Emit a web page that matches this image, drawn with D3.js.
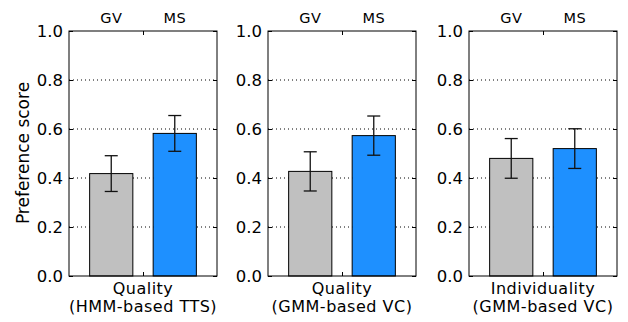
<!DOCTYPE html>
<html>
<head>
<meta charset="utf-8">
<script src="https://cdn.jsdelivr.net/npm/d3@7"></script>
<style>
  body { margin: 0; background: #fff; }
  svg { display: block; font-family: 'DejaVu Sans', sans-serif; }
</style>
</head>
<body>
<svg id="chart" width="628" height="322"></svg>
<script>
const methods = ['GV', 'MS'];
const panelTitles = [['Quality', '(HMM-based TTS)'], ['Quality', '(GMM-based VC)'], ['Individuality', '(GMM-based VC)']];
const scores = [[0.418, 0.582], [0.427, 0.573], [0.480, 0.520]];
const errors = [[0.073, 0.073], [0.080, 0.080], [0.081, 0.081]];
const yTicks = [0.0, 0.2, 0.4, 0.6, 0.8, 1.0];
const barColors = ['#c0c0c0', '#1e90ff'];

const svg = d3.select('#chart');
const panelLeft = [69, 268, 469];
const panelWidth = 148;
const plotTop = 31;
const plotBottom = 276;

const y = d3.scaleLinear().domain([0, 1]).range([plotBottom, plotTop]);

panelTitles.forEach((title, p) => {
  const x = d3.scaleLinear()
    .domain([-0.665, 1.665])
    .range([panelLeft[p], panelLeft[p] + panelWidth]);
  const g = svg.append('g');
  const barW = x(0.68) - x(0);

  // dotted grid
  g.selectAll('.grid')
    .data(yTicks.filter(t => t > 0 && t < 1))
    .enter().append('line')
    .attr('x1', x.range()[0]).attr('x2', x.range()[1])
    .attr('y1', d => y(d)).attr('y2', d => y(d))
    .attr('stroke', '#000').attr('stroke-width', 1)
    .attr('stroke-dasharray', '1,3');

  // bars
  const data = methods.map((m, i) => ({ m, i, v: scores[p][i], e: errors[p][i] }));
  g.selectAll('.bar')
    .data(data)
    .enter().append('rect')
    .attr('x', d => x(d.i) - barW / 2)
    .attr('width', barW)
    .attr('y', d => y(d.v))
    .attr('height', d => y(0) - y(d.v))
    .attr('fill', d => barColors[d.i])
    .attr('stroke', '#000').attr('stroke-width', 1);

  // error bars
  const eb = g.selectAll('.err').data(data).enter().append('g').attr('stroke', '#111').attr('stroke-width', 1.3);
  eb.append('line')
    .attr('x1', d => x(d.i)).attr('x2', d => x(d.i))
    .attr('y1', d => y(d.v + d.e)).attr('y2', d => y(d.v - d.e));
  [1, -1].forEach(s => {
    eb.append('line')
      .attr('x1', d => x(d.i) - 6.5).attr('x2', d => x(d.i) + 6.5)
      .attr('y1', d => y(d.v + s * d.e)).attr('y2', d => y(d.v + s * d.e));
  });

  // y axis, ticks inward
  const yAxis = d3.axisLeft(y).tickValues(yTicks).tickFormat(d3.format('.1f')).tickSize(-4).tickPadding(6);
  const ya = g.append('g').attr('transform', `translate(${x.range()[0]},0)`).call(yAxis);
  ya.select('.domain').remove();
  ya.selectAll('text').attr('font-size', 16.5).attr('font-family', 'DejaVu Sans').attr('fill', '#000');
  const yr = g.append('g').attr('transform', `translate(${x.range()[1]},0)`)
    .call(d3.axisRight(y).tickValues(yTicks).tickSize(-4).tickFormat(''));
  yr.select('.domain').remove();

  // x ticks at center, top and bottom
  const xb = g.append('g').attr('transform', `translate(0,${plotBottom})`)
    .call(d3.axisBottom(x).tickValues([0.5]).tickSize(-4).tickFormat(''));
  xb.select('.domain').remove();
  const xt = g.append('g').attr('transform', `translate(0,${plotTop})`)
    .call(d3.axisTop(x).tickValues([0.5]).tickSize(-4).tickFormat(''));
  xt.select('.domain').remove();

  // frame
  g.append('rect')
    .attr('x', x.range()[0]).attr('y', plotTop)
    .attr('width', panelWidth).attr('height', plotBottom - plotTop)
    .attr('fill', 'none').attr('stroke', '#000').attr('stroke-width', 1);

  // method labels above
  g.selectAll('.mlab').data(data).enter().append('text')
    .attr('x', d => x(d.i)).attr('y', 23)
    .attr('text-anchor', 'middle').attr('font-size', 14.5)
    .attr('letter-spacing', 0.4)
    .text(d => d.m);

  // panel title below
  title.forEach((line, k) => {
    g.append('text')
      .attr('x', x(0.5)).attr('y', 293.5 + k * 18.7)
      .attr('text-anchor', 'middle').attr('font-size', 16)
      .attr('letter-spacing', 0.5)
      .text(line);
  });
});

svg.append('text')
  .attr('transform', `translate(29,153) rotate(-90)`)
  .attr('text-anchor', 'middle').attr('font-size', 17)
  .text('Preference score');
</script>
</body>
</html>
